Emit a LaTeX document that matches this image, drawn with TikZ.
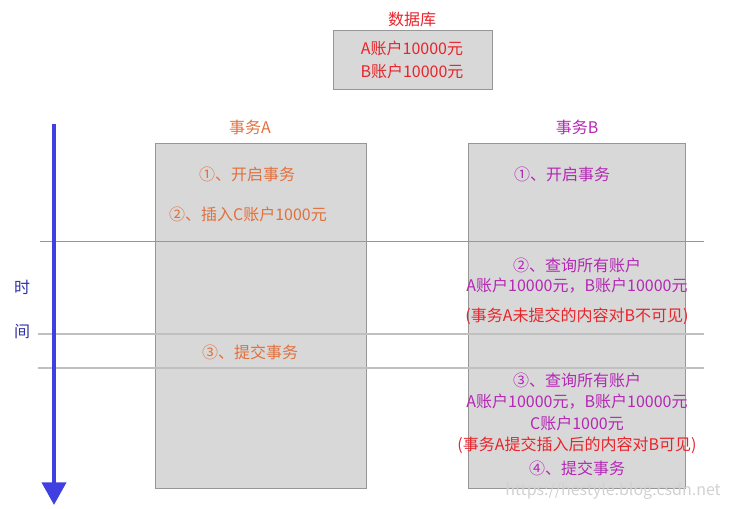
\documentclass[tikz,border=0pt]{standalone}
\usepackage{fontspec}
\setmainfont{Noto Sans CJK SC}
\usetikzlibrary{positioning,arrows.meta}
\definecolor{boxgray}{RGB}{216,216,216}
\definecolor{edgegray}{RGB}{150,150,150}
\definecolor{linegray}{RGB}{192,192,192}
\definecolor{txaorange}{RGB}{226,112,60}
\definecolor{txbpurple}{RGB}{180,40,180}
\definecolor{dbred}{RGB}{232,36,43}
\definecolor{timeblue}{RGB}{64,64,224}

\begin{document}
\begin{tikzpicture}[
                x=0.75pt, y=-0.75pt,
                node distance=0pt,
                panel/.style={rectangle, draw=edgegray, fill=boxgray, line width=0.75pt, anchor=north west, inner sep=0pt},
                label/.style={inner sep=0pt, font=\fontsize{12}{14}\selectfont},
                stepa/.style={label, text=txaorange},
                stepb/.style={label, text=txbpurple},
                note/.style={label, text=dbred}
            ]
                \useasboundingbox (0,0) rectangle (731,509);

                % database
                \node [panel, minimum width=119.25pt, minimum height=44.25pt] (db) at (333,30) {};
                \node [note] (dbtitle) at (412,19) {数据库};
                \node [note] (dba) at (412,48) {A账户10000元};
                \node [note] (dbb) at (412,71) {B账户10000元};

                % transactions
                \node [panel, minimum width=158.25pt, minimum height=258.75pt] (txa) at (155,143) {};
                \node [panel, minimum width=162.75pt, minimum height=258.75pt] (txb) at (468,143) {};
                \node [stepa] (titlea) at (250,127) {事务A};
                \node [stepb] (titleb) at (577,127) {事务B};

                % time separators
                \draw[edgegray, line width=0.75pt] (40,242) -- (704,242);
                \draw[linegray, line width=1.2pt] (38,334) -- (704,334);
                \draw[linegray, line width=1.2pt] (38,368) -- (704,368);

                % time axis
                \coordinate (tstart) at (54,124);
                \coordinate (tend) at (54,505);
                \draw[-{Triangle[width=18pt, length=17pt]}, line width=3pt, timeblue] (tstart) -- (tend);
                \node [label, text=timeblue!75!black] (shi) at (22,287) {时};
                \node [label, text=timeblue!75!black] (jian) at (22,332) {间};

                % steps of A
                \node [stepa] (a1) at (247,174) {①、开启事务};
                \node [stepa] (a2) at (248,214) {②、插入C账户1000元};
                \node [stepa] (a3) at (250,352) {③、提交事务};

                % steps of B
                \node [stepb] (b1) at (562,174) {①、开启事务};
                \node [stepb] (b2) at (577,265) {②、查询所有账户};
                \node [stepb] (b2r) at (577,286) {A账户10000元，B账户10000元};
                \node [note] (b2n) at (577,316) {(事务A未提交的内容对B不可见)};
                \node [stepb] (b3) at (577,380) {③、查询所有账户};
                \node [stepb] (b3r) at (577,402) {A账户10000元，B账户10000元};
                \node [stepb] (b3c) at (577,423) {C账户1000元};
                \node [note] (b3n) at (577,445) {(事务A提交插入后的内容对B可见)};
                \node [stepb] (b4) at (577,468) {④、提交事务};

                \node [label, text=black!18, anchor=east] (mark) at (721,491) {https://hestyle.blog.csdn.net};
            \end{tikzpicture}
\end{document}
